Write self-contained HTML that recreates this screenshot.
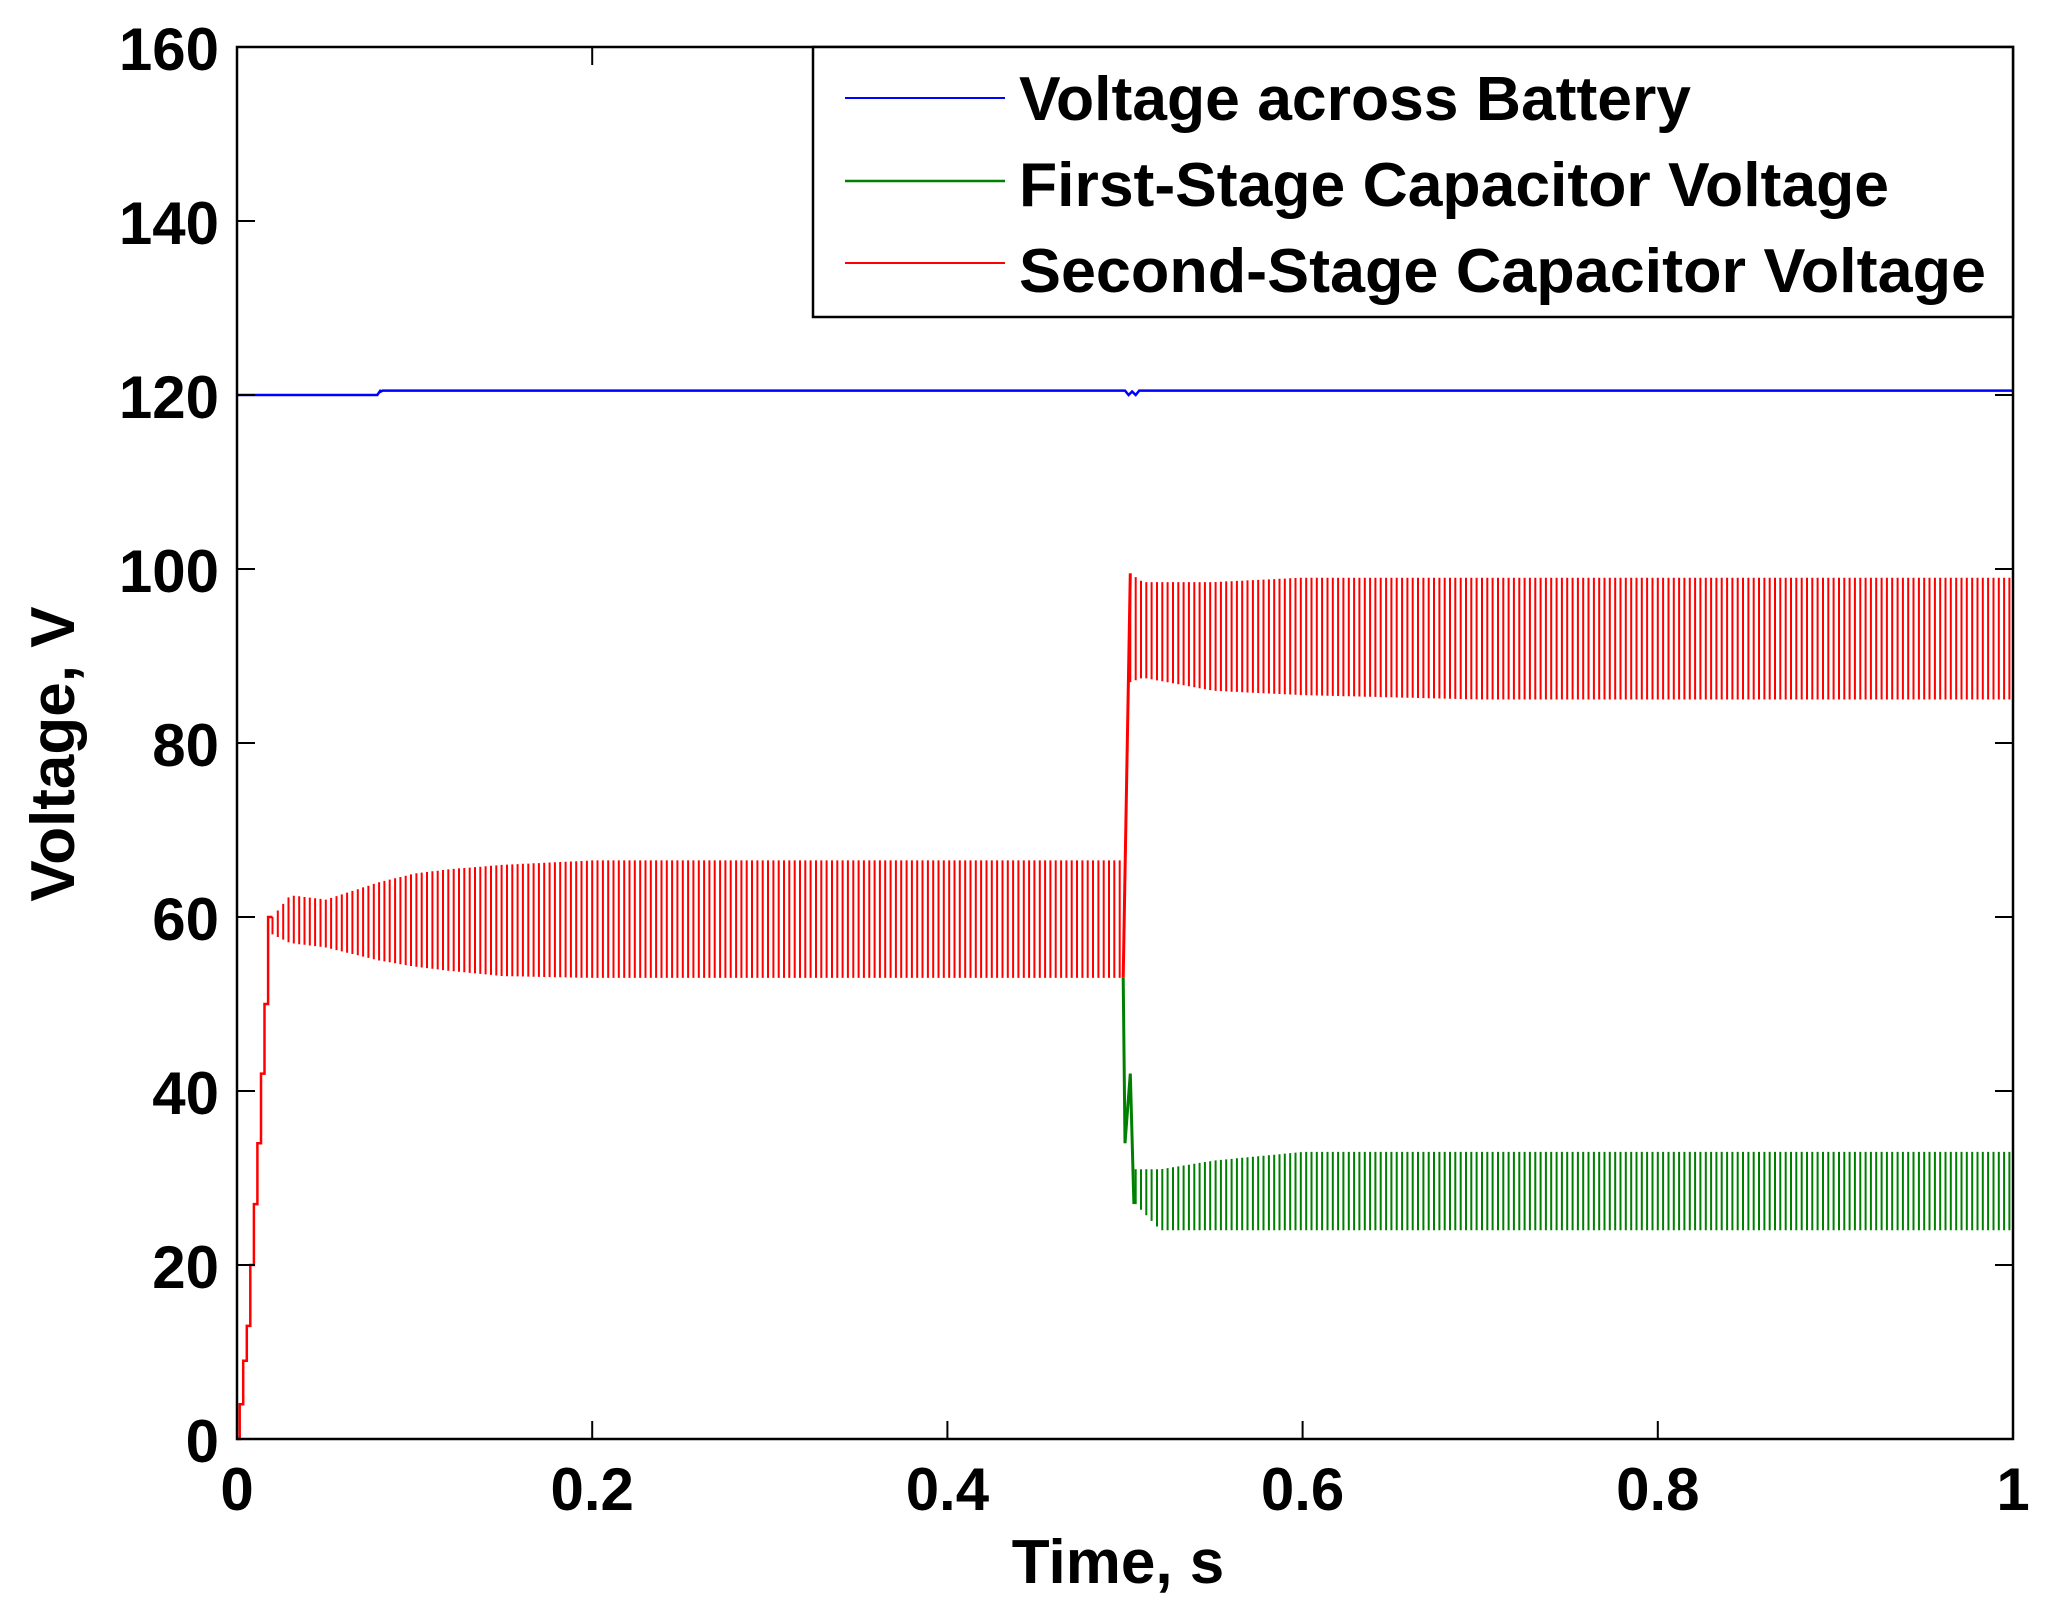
<!DOCTYPE html>
<html><head><meta charset="utf-8"><style>
html,body{margin:0;padding:0;background:#fff;}
svg{display:block;}
text{font-family:"Liberation Sans",Arial,sans-serif;font-weight:bold;fill:#000;}
</style></head><body>
<svg id="chart" width="2055" height="1615" viewBox="0 0 2055 1615" xmlns="http://www.w3.org/2000/svg">
<g id="plot"></g>
<g id="axes"></g>
</svg>
<script>
const xTicks=[0,0.2,0.4,0.6,0.8,1];
const xTickLabels=["0","0.2","0.4","0.6","0.8","1"];
const yTicks=[0,20,40,60,80,100,120,140,160];
const yTickLabels=["0","20","40","60","80","100","120","140","160"];
// battery voltage
const blueT=[0,0.079,0.081,0.08,0.082,0.5,0.502,0.504,0.506,0.508,1];
const blueV=[120,120,120.6,120.3,120.5,120.5,120,120.4,120,120.5,120.5];
// second stage ramp steps
const rampT=[0,0.0015,0.0035,0.0055,0.0075,0.0095,0.0115,0.0135,0.0155,0.0175,0.02];
const rampV=[0,4,9,13,20,27,34,42,50,60,60];
// second stage band envelope
const redT=[0.02,0.03,0.05,0.08,0.1,0.12,0.15,0.2,0.499];
const redMax=[60,62.5,62,64,65,65.5,66,66.5,66.5];
const redMin=[58,57,56.5,55,54.3,53.8,53.2,53,53];
const redT2=[0.503,0.51,0.55,0.6,0.7,1.0];
const redMax2=[99.5,98.5,98.5,99,99,99];
const redMin2=[87,87.5,86,85.5,85,85];
// first stage band envelope
const greenT=[0.506,0.52,0.55,0.6,0.7,1.0];
const greenMax=[31,31,32,33,33,33];
const greenMin=[27,24,24,24,24,24];
// transition at t=0.5
const redJumpT=[0.499,0.5,0.503];
const redJumpV=[53,65,99.5];
const greenJumpT=[0.499,0.5,0.503,0.505];
const greenJumpV=[53,34,42,27];

const X0=237,X1=2013,Y0=1439,Y1=47;
const xs=t=>X0+t*(X1-X0);
const ys=v=>Y0-v/160*(Y0-Y1);
const NS="http://www.w3.org/2000/svg";
const plot=document.getElementById('plot'),axes=document.getElementById('axes');
function mk(tag,attrs,parent){const e=document.createElementNS(NS,tag);for(const k in attrs)e.setAttribute(k,attrs[k]);parent.appendChild(e);return e;}
function interp(T,V,t){if(t<=T[0])return V[0];for(let i=1;i<T.length;i++){if(t<=T[i]){const f=(t-T[i-1])/(T[i]-T[i-1]);return V[i-1]+f*(V[i]-V[i-1]);}}return V[V.length-1];}
function band(T,MX,MN,color,name){
  let d="";const P=0.003;
  for(let t=T[0];t<=T[T.length-1];t+=P){const x=xs(t).toFixed(1);d+=`M${x},${ys(interp(T,MX,t)).toFixed(1)}V${ys(interp(T,MN,t)).toFixed(1)}`;}
  const p=mk('path',{d:d,stroke:color,'stroke-width':2,fill:'none'},plot);
  
  
}
function line(T,V,color,w,name,step){
  let d="";
  for(let i=0;i<T.length;i++){
    if(i===0)d+=`M${xs(T[i]).toFixed(1)},${ys(V[i]).toFixed(1)}`;
    else if(step)d+=`H${xs(T[i]).toFixed(1)}V${ys(V[i]).toFixed(1)}`;
    else d+=`L${xs(T[i]).toFixed(1)},${ys(V[i]).toFixed(1)}`;
  }
  const p=mk('path',{d:d,stroke:color,'stroke-width':w,fill:'none'},plot);
  
  
}
band(redT,redMax,redMin,'#ff0000','second-stage-band-1');
band(redT2,redMax2,redMin2,'#ff0000','second-stage-band-2');
band(greenT,greenMax,greenMin,'#008000','first-stage-band');
line(rampT,rampV,'#ff0000',2.5,'second-stage-ramp',true);
line(redJumpT,redJumpV,'#ff0000',3,'second-stage-jump',false);
line(greenJumpT,greenJumpV,'#008000',3,'first-stage-drop',false);
line(blueT,blueV,'#0000ff',2.5,'battery-voltage-line',false);

const fr=mk('rect',{x:X0,y:Y1,width:X1-X0,height:Y0-Y1,fill:'none',stroke:'#000','stroke-width':2.5},axes);

xTicks.forEach((t,i)=>{
  const x=xs(t);
  mk('line',{x1:x,y1:Y0,x2:x,y2:Y0-18,stroke:'#000','stroke-width':2},axes);
  mk('line',{x1:x,y1:Y1,x2:x,y2:Y1+18,stroke:'#000','stroke-width':2},axes);
  const tx=mk('text',{x:x,y:1510,'font-size':60,'text-anchor':'middle'},axes);
  tx.textContent=xTickLabels[i];
  
  
});
yTicks.forEach((v,i)=>{
  const y=ys(v);
  mk('line',{x1:X0,y1:y,x2:X0+18,y2:y,stroke:'#000','stroke-width':2},axes);
  mk('line',{x1:X1,y1:y,x2:X1-18,y2:y,stroke:'#000','stroke-width':2},axes);
  const tx=mk('text',{x:219,y:y+23,'font-size':60,'text-anchor':'end'},axes);
  tx.textContent=yTickLabels[i];
  
  
});
</script>
<svg style="position:absolute;left:0;top:0" width="2055" height="1615" xmlns="http://www.w3.org/2000/svg">
<text x="1118" y="1583" font-size="62" text-anchor="middle">Time, s</text>
<text x="0" y="0" font-size="62" text-anchor="middle" transform="translate(74,754) rotate(-90)">Voltage, V</text>
<g>
<rect x="813" y="47" width="1200" height="270" fill="#fff" stroke="#000" stroke-width="2.5"/>
<line x1="845" y1="98" x2="1005" y2="98" stroke="#0000ff" stroke-width="2"/>
<text x="1019" y="120" font-size="62" textLength="672" lengthAdjust="spacingAndGlyphs">Voltage across Battery</text>
<line x1="845" y1="181" x2="1005" y2="181" stroke="#008000" stroke-width="2.5"/>
<text x="1019" y="206" font-size="62" textLength="870" lengthAdjust="spacingAndGlyphs">First-Stage Capacitor Voltage</text>
<line x1="845" y1="263" x2="1005" y2="263" stroke="#ff0000" stroke-width="2"/>
<text x="1019" y="292" font-size="62" textLength="967" lengthAdjust="spacingAndGlyphs">Second-Stage Capacitor Voltage</text>
</g>
</svg>
</body></html>
